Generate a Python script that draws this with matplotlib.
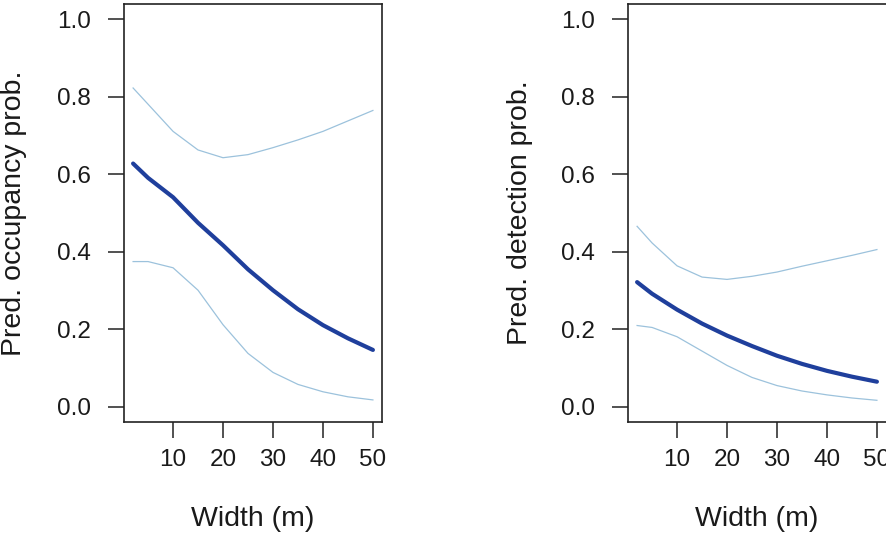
import numpy as np
import matplotlib
matplotlib.use("Agg")
import matplotlib.pyplot as plt

plt.rcParams['font.family'] = ['Liberation Sans', 'DejaVu Sans']

# predicted values along stream width
width = [2, 5, 10, 15, 20, 25, 30, 35, 40, 45, 50]

occ_mean = [0.627, 0.590, 0.540, 0.474, 0.416, 0.354, 0.300, 0.251, 0.210, 0.176, 0.146]
occ_upper = [0.822, 0.780, 0.710, 0.662, 0.642, 0.650, 0.668, 0.688, 0.710, 0.737, 0.764]
occ_lower = [0.374, 0.374, 0.358, 0.300, 0.211, 0.137, 0.088, 0.057, 0.038, 0.025, 0.017]

det_mean = [0.321, 0.291, 0.250, 0.214, 0.183, 0.156, 0.131, 0.110, 0.092, 0.077, 0.064]
det_upper = [0.465, 0.422, 0.363, 0.334, 0.328, 0.336, 0.347, 0.362, 0.376, 0.390, 0.405]
det_lower = [0.209, 0.204, 0.180, 0.143, 0.106, 0.075, 0.054, 0.040, 0.030, 0.022, 0.016]

xticks = [10, 20, 30, 40, 50]
yticks = [0.0, 0.2, 0.4, 0.6, 0.8, 1.0]

W, H = 886, 540
fig = plt.figure(figsize=(W / 100, H / 100), dpi=100)

panels = [
    (123.5, occ_mean, occ_upper, occ_lower, "Pred. occupancy prob.", -0.373),
    (627.5, det_mean, det_upper, det_lower, "Pred. detection prob.", -0.365),
]

for left, mean, upper, lower, ylab, ylx in panels:
    ax = fig.add_axes([left / W, (H - 422) / H, 259 / W, 418.5 / H])
    ax.plot(width, upper, color='#9cc2dc', lw=0.9)
    ax.plot(width, lower, color='#9cc2dc', lw=0.9)
    ax.plot(width, mean, color='#1f3f9c', lw=3.0, solid_capstyle='round')

    # R-style 4% padding around the data range
    ax.set_xlim(2 - 0.04 * 48, 50 + 0.04 * 48)
    ax.set_ylim(-0.04, 1.04)
    ax.set_xticks(xticks)
    ax.set_yticks(yticks)
    ax.set_yticklabels([f"{v:.1f}" for v in yticks])
    ax.tick_params(direction='out', length=11.5, width=1.1, color='#222222',
                   labelsize=17.5, labelcolor='#1a1a1a')
    ax.tick_params(axis='y', pad=12)
    ax.tick_params(axis='x', pad=8)
    for s in ax.spines.values():
        s.set_linewidth(1.2)
        s.set_color('#222222')

    ax.set_xlabel("Width (m)", fontsize=20.5, color='#1a1a1a', va='top')
    ax.xaxis.set_label_coords(0.5, -0.20)
    ax.set_ylabel(ylab, fontsize=20.5, color='#1a1a1a')
    ax.yaxis.set_label_coords(ylx, 0.5)

fig.savefig("out.png", dpi=100)
